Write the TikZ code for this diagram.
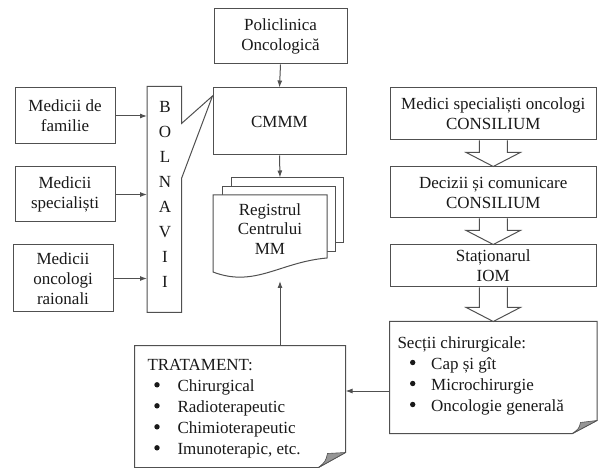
\documentclass[tikz,border=0pt]{standalone}
\usepackage{fontspec}
\setmainfont{Liberation Serif}
\usetikzlibrary{arrows.meta,calc}
\definecolor{ln}{RGB}{80,80,80}
\definecolor{tx}{RGB}{25,25,25}
\definecolor{foldgray}{RGB}{150,150,150}
\newcommand\hollowarr[2]{%
  \draw[hollow] let \p1=(#1.south), \p2=(#2.north) in
    (\x1-14pt,\y1) -- (\x1-14pt,\y2+14pt) -- (\x1-27pt,\y2+14pt) -- (\x1,\y2)
    -- (\x1+27pt,\y2+14pt) -- (\x1+14pt,\y2+14pt) -- (\x1+14pt,\y1);}
\begin{document}
\begin{tikzpicture}[x=1pt,y=-1pt,line width=1pt,
  box/.style={draw=ln,text=tx,fill=white,font=\fontsize{17}{20}\selectfont,align=center,inner sep=0pt},
  ghost/.style={draw=none,inner sep=0pt},
  lst/.style={text=tx,font=\fontsize{17}{21}\selectfont,align=left,inner sep=0pt,anchor=north west},
  arr/.style={draw=ln,-{Latex[length=7pt,width=5pt]}},
  hollow/.style={draw=ln,fill=white,line join=miter},
  page/.style={draw=ln,fill=white,line join=miter},
  bul/.style={fill=tx},
]
\useasboundingbox (0,0) rectangle (598,468);

% central column
\node[box,minimum width=133pt,minimum height=55pt] (pol) at (280.5,36.5) {Policlinica\\Oncologică};
\node[box,minimum width=133pt,minimum height=67pt] (cm) at (279.5,121.5) {CMMM};

% left column
\node[box,minimum width=100pt,minimum height=56pt] (fam) at (65,116) {Medicii de\\familie};
\node[box,minimum width=100pt,minimum height=55pt] (spec) at (65,194.5) {Medicii\\specialiști};
\node[box,minimum width=100pt,minimum height=67pt] (rai) at (63,278.5) {Medicii\\oncologi\\raionali};

% BOLNAVI callout
\node[ghost,minimum width=33.5pt,minimum height=225pt] (bol) at (164.25,199.5) {};
\coordinate (tip) at (212.5,96);
\draw[page] (bol.north west) -- (bol.north east) -- ([yshift=-37pt]bol.north east) -- (tip)
  -- ([yshift=-92pt]bol.north east) -- (bol.south east) -- (bol.south west) -- cycle;
\node[text=tx,font=\fontsize{17}{25}\selectfont,align=center,inner sep=0pt] (boltxt) at (165,194.5)
  {B\\O\\L\\N\\A\\V\\I\\I};

% multi-document Registrul
\draw[page] (231,178) rectangle (343,243);
\draw[page] (222,187) rectangle (335,252);
\draw[page] (213,195) -- (327,195) -- (327,258) .. controls (280,262) and (255,288) .. (213,272) -- cycle;
\node[text=tx,font=\fontsize{17}{19.5}\selectfont,align=center,inner sep=0pt] (reg) at (270,229)
  {Registrul\\Centrului\\MM};
\coordinate (regtop) at (280,177.5);
\coordinate (regbot) at (280,281);

% right column
\node[box,minimum width=206.5pt,minimum height=52pt] (med) at (493.25,114) {Medici specialiști oncologi\\CONSILIUM};
\node[box,minimum width=206.5pt,minimum height=51pt] (dec) at (493.25,192.5) {Decizii și comunicare\\CONSILIUM};
\node[box,minimum width=206.5pt,minimum height=42pt] (sta) at (493.25,266) {Staționarul\\IOM};

% Sectii box with folded corner
\node[ghost,minimum width=206.5pt,minimum height=111pt] (sec) at (493.25,377.5) {};
\draw[page] (sec.north west) -- (sec.north east) -- ([yshift=13pt]sec.south east)
  -- ([xshift=-24.5pt]sec.south east) -- (sec.south west) -- cycle;
\filldraw[draw=ln,fill=foldgray,line width=0.6pt,line join=round] ([yshift=13pt]sec.south east)
  .. controls ([xshift=-8pt,yshift=12pt]sec.south east) .. ([xshift=-16.5pt,yshift=11pt]sec.south east)
  .. controls ([xshift=-18pt,yshift=5pt]sec.south east) .. ([xshift=-24.5pt]sec.south east) -- cycle;
\node[lst] (sectxt) at (397,336) {Secții chirurgicale:\\
  \hspace*{33.7pt}Cap și gît\\
  \hspace*{33.7pt}Microchirurgie\\
  \hspace*{33.7pt}Oncologie generală};
\foreach \k in {1,2,3}
  \fill[bul] ($(sectxt.north west)+(15.7,5.5+21*\k)$) circle[radius=2.7pt];

% TRATAMENT box with folded corner
\node[ghost,minimum width=210pt,minimum height=121pt] (trat) at (240,406.5) {};
\draw[page] (trat.north west) -- (trat.north east) -- ([yshift=15pt]trat.south east)
  -- ([xshift=-27pt]trat.south east) -- (trat.south west) -- cycle;
\filldraw[draw=ln,fill=foldgray,line width=0.6pt,line join=round] ([yshift=15pt]trat.south east)
  .. controls ([xshift=-9pt,yshift=14pt]trat.south east) .. ([xshift=-18pt,yshift=14pt]trat.south east)
  .. controls ([xshift=-20pt,yshift=6pt]trat.south east) .. ([xshift=-27pt]trat.south east) -- cycle;
\node[lst] (trattxt) at (147,358.5) {TRATAMENT:\\
  \hspace*{30pt}Chirurgical\\
  \hspace*{30pt}Radioterapeutic\\
  \hspace*{30pt}Chimioterapeutic\\
  \hspace*{30pt}Imunoterapic, etc.};
\foreach \k in {1,2,3,4}
  \fill[bul] ($(trattxt.north west)+(10,5.3+21*\k)$) circle[radius=2.7pt];

% connectors
\draw[arr] (pol.south) -- (cm.north);
\draw[arr] (cm.south) -- (regtop);
\draw[arr] (trat.north -| regbot) -- (regbot);
\draw[arr] (fam.east) -- (fam.east -| bol.west);
\draw[arr] (spec.east) -- (spec.east -| bol.west);
\draw[arr] (rai.east) -- (rai.east -| bol.west);
\draw[arr] ([yshift=-13.5pt]sec.west) -- ([yshift=-13.5pt]sec.west -| trat.east);

\hollowarr{med}{dec}
\hollowarr{dec}{sta}
\hollowarr{sta}{sec}
\end{tikzpicture}
\end{document}
